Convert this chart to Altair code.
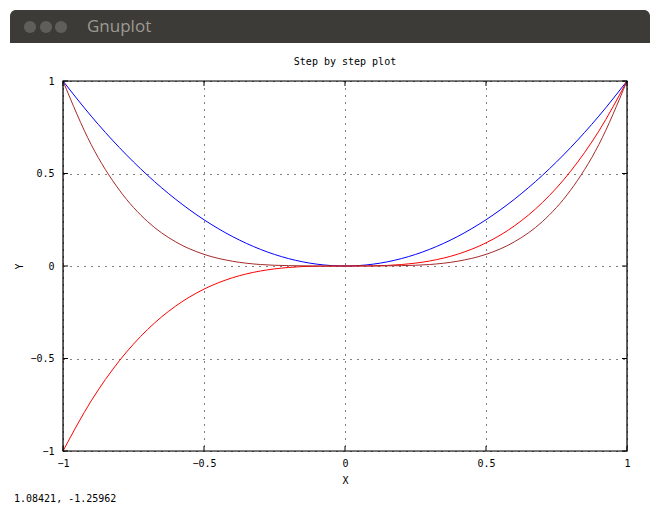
import altair as alt
import pandas as pd

# ---- data ----
xs = [-1.0, -0.9, -0.8, -0.7, -0.6, -0.5, -0.4, -0.3, -0.2, -0.1, 0.0,
      0.1, 0.2, 0.3, 0.4, 0.5, 0.6, 0.7, 0.8, 0.9, 1.0]
y_sq = [1.0, 0.81, 0.64, 0.49, 0.36, 0.25, 0.16, 0.09, 0.04, 0.01, 0.0,
        0.01, 0.04, 0.09, 0.16, 0.25, 0.36, 0.49, 0.64, 0.81, 1.0]
y_cube = [-1.0, -0.729, -0.512, -0.343, -0.216, -0.125, -0.064, -0.027, -0.008, -0.001, 0.0,
          0.001, 0.008, 0.027, 0.064, 0.125, 0.216, 0.343, 0.512, 0.729, 1.0]
y_quart = [1.0, 0.656, 0.41, 0.24, 0.13, 0.063, 0.026, 0.008, 0.002, 0.0, 0.0,
           0.0, 0.002, 0.008, 0.026, 0.063, 0.13, 0.24, 0.41, 0.656, 1.0]
series_names = ["sq", "cube", "quart"]
series_colors = ["#0000ff", "#ff0000", "#a52a2a"]
tick_values = [-1, -0.5, 0, 0.5, 1]

title_text = "Step by step plot"
x_title = "X"
y_title = "Y"
window_title = "Gnuplot"
status_text = "1.08421, -1.25962"

rows = []
for name, ys in zip(series_names, [y_sq, y_cube, y_quart]):
    for x, y in zip(xs, ys):
        rows.append({"x": x, "y": y, "s": name})
df = pd.DataFrame(rows)
ticks_df = pd.DataFrame({"t": tick_values})
one = pd.DataFrame({"a": [0]})

W, H = 564, 370
FONT = "DejaVu Sans Mono"

xscale = alt.Scale(domain=[-1, 1], nice=False, zero=False)
yscale = alt.Scale(domain=[-1, 1], nice=False, zero=False)

common = dict(values=tick_values, grid=True, gridDash=[1, 6],
              gridColor="black", gridOpacity=1, tickSize=0, domain=False,
              labelFont=FONT, labelFontSize=10, format="~g",
              titleFont=FONT, titleFontSize=10, titleFontWeight="normal",
              labelColor="black", titleColor="black", labelFlush=False)
xaxis = alt.Axis(title=x_title, labelPadding=7, titlePadding=7, **common)
yaxis = alt.Axis(title=y_title, labelPadding=9, titlePadding=5, **common)

lines = alt.Chart(df).mark_line(strokeWidth=1, interpolate="monotone").encode(
    x=alt.X("x:Q", scale=xscale, axis=xaxis),
    y=alt.Y("y:Q", scale=yscale, axis=yaxis),
    color=alt.Color("s:N", scale=alt.Scale(domain=series_names, range=series_colors), legend=None),
    detail="s:N",
)

frame_top = alt.Chart(one).mark_rect(fill=None, stroke="black", strokeWidth=1.2).encode(
    x=alt.value(0), x2=alt.value(W), y=alt.value(0), y2=alt.value(H))

tick_bottom = alt.Chart(ticks_df).mark_rule(color="black").encode(
    x=alt.X("t:Q", scale=xscale), y=alt.value(H), y2=alt.value(H - 5))
tick_top = alt.Chart(ticks_df).mark_rule(color="black").encode(
    x=alt.X("t:Q", scale=xscale), y=alt.value(0), y2=alt.value(5))
tick_left = alt.Chart(ticks_df).mark_rule(color="black").encode(
    y=alt.Y("t:Q", scale=yscale), x=alt.value(0), x2=alt.value(5))
tick_right = alt.Chart(ticks_df).mark_rule(color="black").encode(
    y=alt.Y("t:Q", scale=yscale), x=alt.value(W), x2=alt.value(W - 5))

# window decoration (title bar)
bar = alt.Chart(one).mark_rect(color="#3c3b37", cornerRadiusTopLeft=6, cornerRadiusTopRight=6).encode(
    x=alt.value(-53), x2=alt.value(587), y=alt.value(-71), y2=alt.value(-38))
buttons = alt.Chart(pd.DataFrame({"bx": [-33, -17, -2]})).mark_circle(
    color="#5f5e5a", opacity=1, size=150).encode(
    x=alt.X("bx:Q", scale=None), y=alt.value(-54))
wtitle = alt.Chart(one).mark_text(text=window_title, font="Open Sans", fontSize=17,
                                  color="#9c9a93", align="left", baseline="middle").encode(
    x=alt.value(24), y=alt.value(-54))
ptitle = alt.Chart(one).mark_text(text=title_text, font=FONT, fontSize=10,
                                  color="black", align="center", baseline="middle").encode(
    x=alt.value(W / 2), y=alt.value(-19))
status = alt.Chart(one).mark_text(text=status_text, font=FONT, fontSize=10,
                                  color="black", align="left", baseline="middle").encode(
    x=alt.value(-49), y=alt.value(418))

chart = alt.layer(bar, buttons, wtitle, ptitle, lines, tick_bottom, tick_top,
                  tick_left, tick_right, frame_top, status).properties(
    width=W, height=H,
    autosize=alt.AutoSizeParams(type="none"),
    padding={"left": 55, "top": 73, "right": 27, "bottom": 58},
).configure_view(stroke="black", strokeWidth=1).configure(background="white")

chart.save("out.html", embed_options={"renderer": "svg", "actions": False})
